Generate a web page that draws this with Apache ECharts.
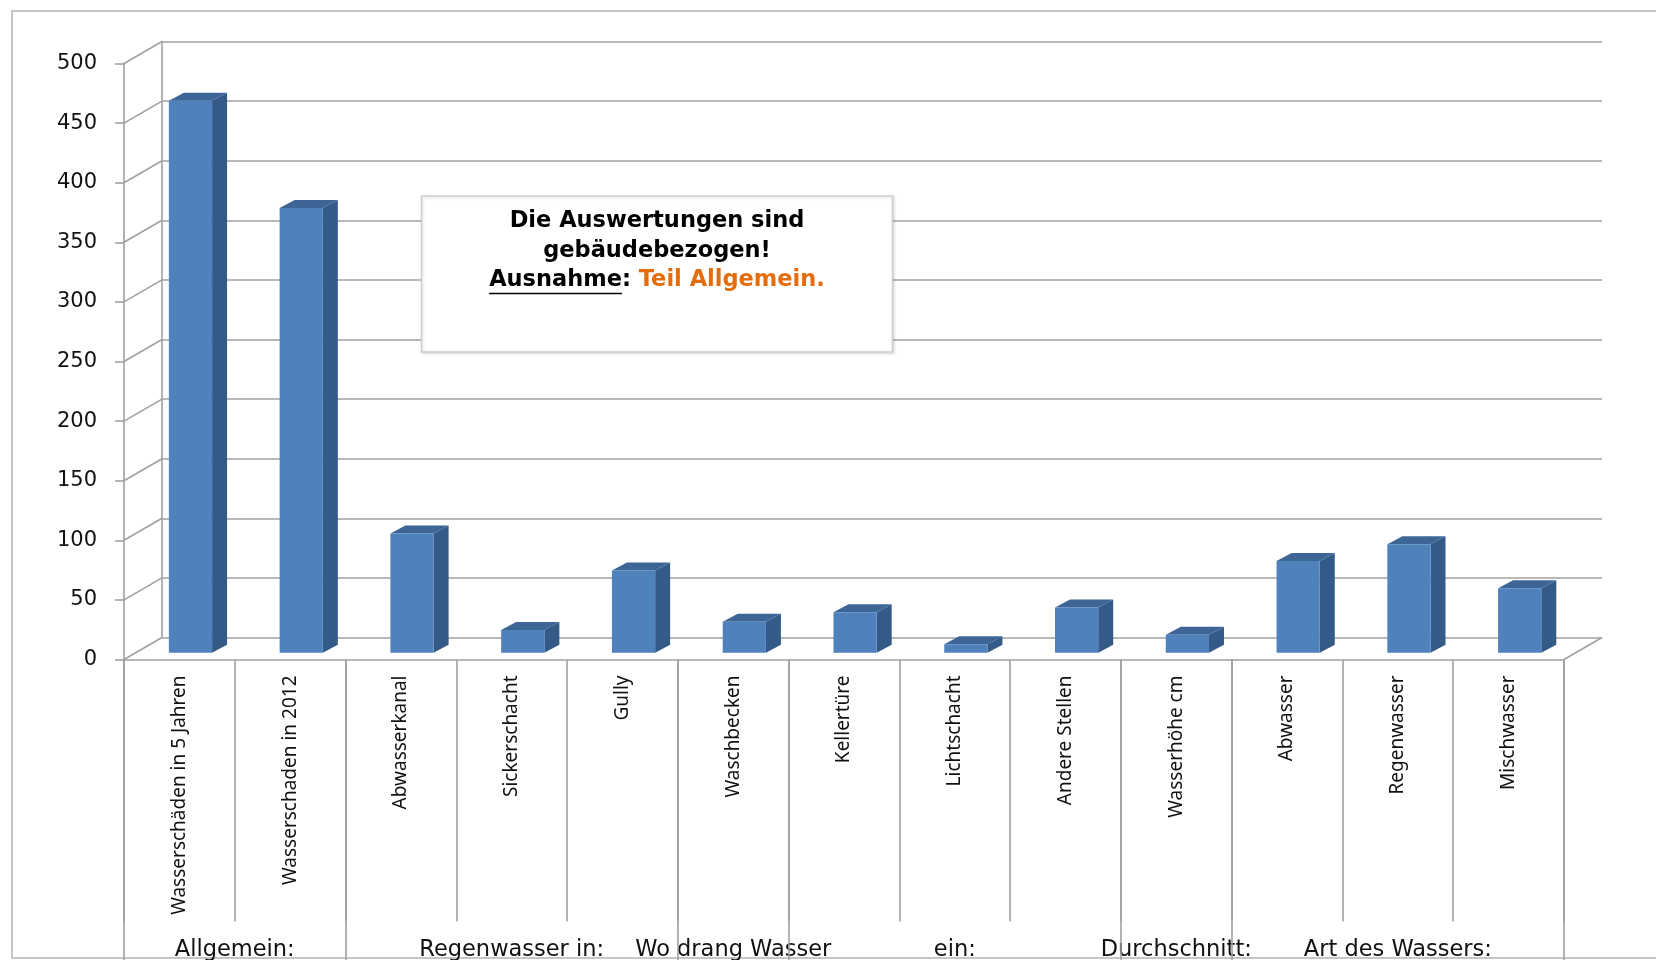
<!DOCTYPE html>
<html>
<head>
<meta charset="utf-8">
<script src="https://cdn.jsdelivr.net/npm/echarts@6/dist/echarts.min.js"></script>
<style>
  html, body { margin: 0; padding: 0; background: #fff; }
  #chart { width: 1656px; height: 960px; }
</style>
</head>
<body>
<div id="chart"></div>
<script>
const categories = [
  'Wasserschäden in 5 Jahren', 'Wasserschaden in 2012', 'Abwasserkanal', 'Sickerschacht',
  'Gully', 'Waschbecken', 'Kellertüre', 'Lichtschacht', 'Andere Stellen',
  'Wasserhöhe cm', 'Abwasser', 'Regenwasser', 'Mischwasser'
];
const values = [463, 373, 100, 19, 69, 26, 34, 7, 38, 15, 77, 91, 54];
const yTicks = [0, 50, 100, 150, 200, 250, 300, 350, 400, 450, 500];

// second label row (Excel multi-level axis)
const groupLabels = ['Allgemein:', 'Regenwasser in:', 'Wo drang Wasser', 'ein:', 'Durchschnitt:', 'Art des Wassers:'];
const groupPos = [0.5, 3, 5, 7, 9, 11];
const groupBreaks = [0, 2, 5, 6, 9, 10];

const noteLines = ['Die Auswertungen sind', 'gebäudebezogen!'];
const noteLabel = 'Ausnahme';
const noteRest = 'Teil Allgemein.';

/**
 * 3D look
 */
const DX = 38;
const DY = 22;
const FRONT = '#4f81bd';
const SIDE = '#345a88';
const TOP = '#3d6696';
const LINE = '#a0a0a0';

const gridFront = { left: 124, top: 63.5, width: 1440, height: 596 };
const gridBack = { left: 124 + DX, top: 63.5 - DY, width: 1440, height: 596 };

function renderBar(params, api) {
  const i = api.value(0);
  const base = api.coord([i, 0]);
  const top = api.coord([i, api.value(1)]);
  const band = api.size([1, 0])[0];
  const w = band * 0.39;
  const xl = base[0] - w / 2 + band * 0.1;
  const xr = xl + w;
  const yb = base[1] - 6.8;
  const yt = top[1] - 6.8;
  const sx = 15;
  const sy = 8;
  return {
    type: 'group',
    children: [
      { type: 'polygon', shape: { points: [[xr, yb], [xr + sx, yb - sy], [xr + sx, yt - sy], [xr, yt]] }, style: { fill: SIDE } },
      { type: 'polygon', shape: { points: [[xl, yt], [xl + sx, yt - sy], [xr + sx, yt - sy], [xr, yt]] }, style: { fill: TOP } },
      { type: 'rect', shape: { x: xl, y: yt, width: w, height: yb - yt }, style: { fill: FRONT } },
    ],
  };
}

function renderWall(params, api) {
  const p = api.coord([0, api.value(1)]);
  const band = api.size([1, 0])[0];
  const left = p[0] - band / 2;
  const style = { stroke: LINE, lineWidth: 1.6 };
  const children = [
    { type: 'line', shape: { x1: left, y1: p[1], x2: left + DX, y2: p[1] - DY }, style },
  ];
  if (api.value(1) === 0) {
    const right = api.coord([categories.length - 1, 0])[0] + band / 2;
    children.push({ type: 'line', shape: { x1: right, y1: p[1], x2: right + DX, y2: p[1] - DY }, style });
  }
  return { type: 'group', children };
}

const yBase = {
  type: 'value',
  min: 0,
  max: 500,
  interval: 50,
};

const option = {
  animation: false,
  grid: [
    { ...gridFront, containLabel: false },
    { ...gridBack, containLabel: false },
  ],
  xAxis: [
    {
      type: 'category',
      gridIndex: 0,
      data: categories,
      axisLine: { show: true, lineStyle: { color: LINE, width: 1.6 } },
      axisTick: { show: true, interval: 0, length: 262, lineStyle: { color: LINE, width: 1.6 } },
      axisLabel: {
        interval: 0,
        rotate: 90,
        margin: 16,
        fontSize: 19,
        fontFamily: 'Noto Sans',
        color: '#111',
      },
    },
    {
      type: 'category',
      gridIndex: 1,
      data: categories,
      show: false,
    },
    {
      type: 'category',
      gridIndex: 0,
      position: 'bottom',
      data: categories,
      axisLine: { show: false },
      axisLabel: { show: false },
      axisTick: {
        show: true,
        length: 301,
        interval: (index) => groupBreaks.indexOf(index) >= 0,
        lineStyle: { color: LINE, width: 1.6 },
      },
    },
  ],
  yAxis: [
    {
      ...yBase,
      gridIndex: 0,
      axisLine: { show: true, lineStyle: { color: LINE, width: 1.6 } },
      axisTick: { show: true, length: 9, lineStyle: { color: LINE, width: 1.6 } },
      splitLine: { show: false },
      axisLabel: { margin: 27, fontSize: 21, fontFamily: 'DejaVu Sans', color: '#111' },
    },
    {
      ...yBase,
      gridIndex: 1,
      axisLine: { show: true, lineStyle: { color: LINE, width: 1.6 } },
      axisTick: { show: false },
      axisLabel: { show: false },
      splitLine: { show: true, lineStyle: { color: LINE, width: 1.6 } },
    },
  ],
  series: [
    {
      type: 'custom',
      name: 'wall',
      xAxisIndex: 0,
      yAxisIndex: 0,
      clip: false,
      silent: true,
      renderItem: renderWall,
      data: yTicks.map(v => [0, v]),
      z: 1,
    },
    {
      type: 'custom',
      name: 'Anzahl',
      xAxisIndex: 0,
      yAxisIndex: 0,
      clip: false,
      renderItem: renderBar,
      encode: { x: 0, y: 1 },
      data: values.map((v, i) => [i, v]),
      z: 5,
    },
  ],
};

const chart = echarts.init(document.getElementById('chart'), null, { renderer: 'canvas' });
chart.setOption(option);

// group labels and note box placed via axis
const c0 = chart.convertToPixel({ xAxisIndex: 0 }, 0);
const c1 = chart.convertToPixel({ xAxisIndex: 0 }, 1);
const band = c1 - c0;

const ctx = document.createElement('canvas').getContext('2d');
const noteFont = 'bold 22.5px "DejaVu Sans"';
ctx.font = noteFont;
const wLabel = ctx.measureText(noteLabel).width;
const wAll = ctx.measureText(noteLabel + ': ' + noteRest).width;
const noteX = 657;
const uStart = noteX - wAll / 2;

const graphic = [
  {
    type: 'rect',
    silent: true,
    z: -10,
    shape: { x: 12, y: 11, width: 1700, height: 947 },
    style: { fill: 'none', stroke: '#b4b4b4', lineWidth: 1.5 },
  },
  {
    type: 'group',
    z: 100,
    children: [
      {
        type: 'rect',
        shape: { x: 421.5, y: 196, width: 471, height: 156 },
        style: { fill: '#fff', stroke: '#cfcfcf', lineWidth: 1.5, shadowBlur: 3, shadowColor: 'rgba(0,0,0,0.15)', shadowOffsetX: 1, shadowOffsetY: 1 },
      },
      {
        type: 'text',
        style: { x: noteX, y: 221, text: noteLines[0], font: noteFont, fill: '#000', align: 'center', verticalAlign: 'middle' },
      },
      {
        type: 'text',
        style: { x: noteX, y: 251, text: noteLines[1], font: noteFont, fill: '#000', align: 'center', verticalAlign: 'middle' },
      },
      {
        type: 'text',
        style: {
          x: noteX, y: 280, align: 'center', verticalAlign: 'middle',
          text: '{a|' + noteLabel + '}{a|: }{o|' + noteRest + '}',
          rich: {
            a: { font: noteFont, fill: '#000' },
            o: { font: noteFont, fill: '#e46c0a' },
          },
        },
      },
      {
        type: 'line',
        shape: { x1: uStart, y1: 293.5, x2: uStart + wLabel, y2: 293.5 },
        style: { stroke: '#000', lineWidth: 1.5 },
      },
    ],
  },
];

groupLabels.forEach((name, k) => {
  graphic.push({
    type: 'text',
    silent: true,
    style: {
      x: c0 + groupPos[k] * band,
      y: 939,
      text: name,
      font: '22.5px "DejaVu Sans"',
      fill: '#111',
      align: 'center',
      verticalAlign: 'top',
    },
  });
});

chart.setOption({ graphic });
</script>
</body>
</html>
